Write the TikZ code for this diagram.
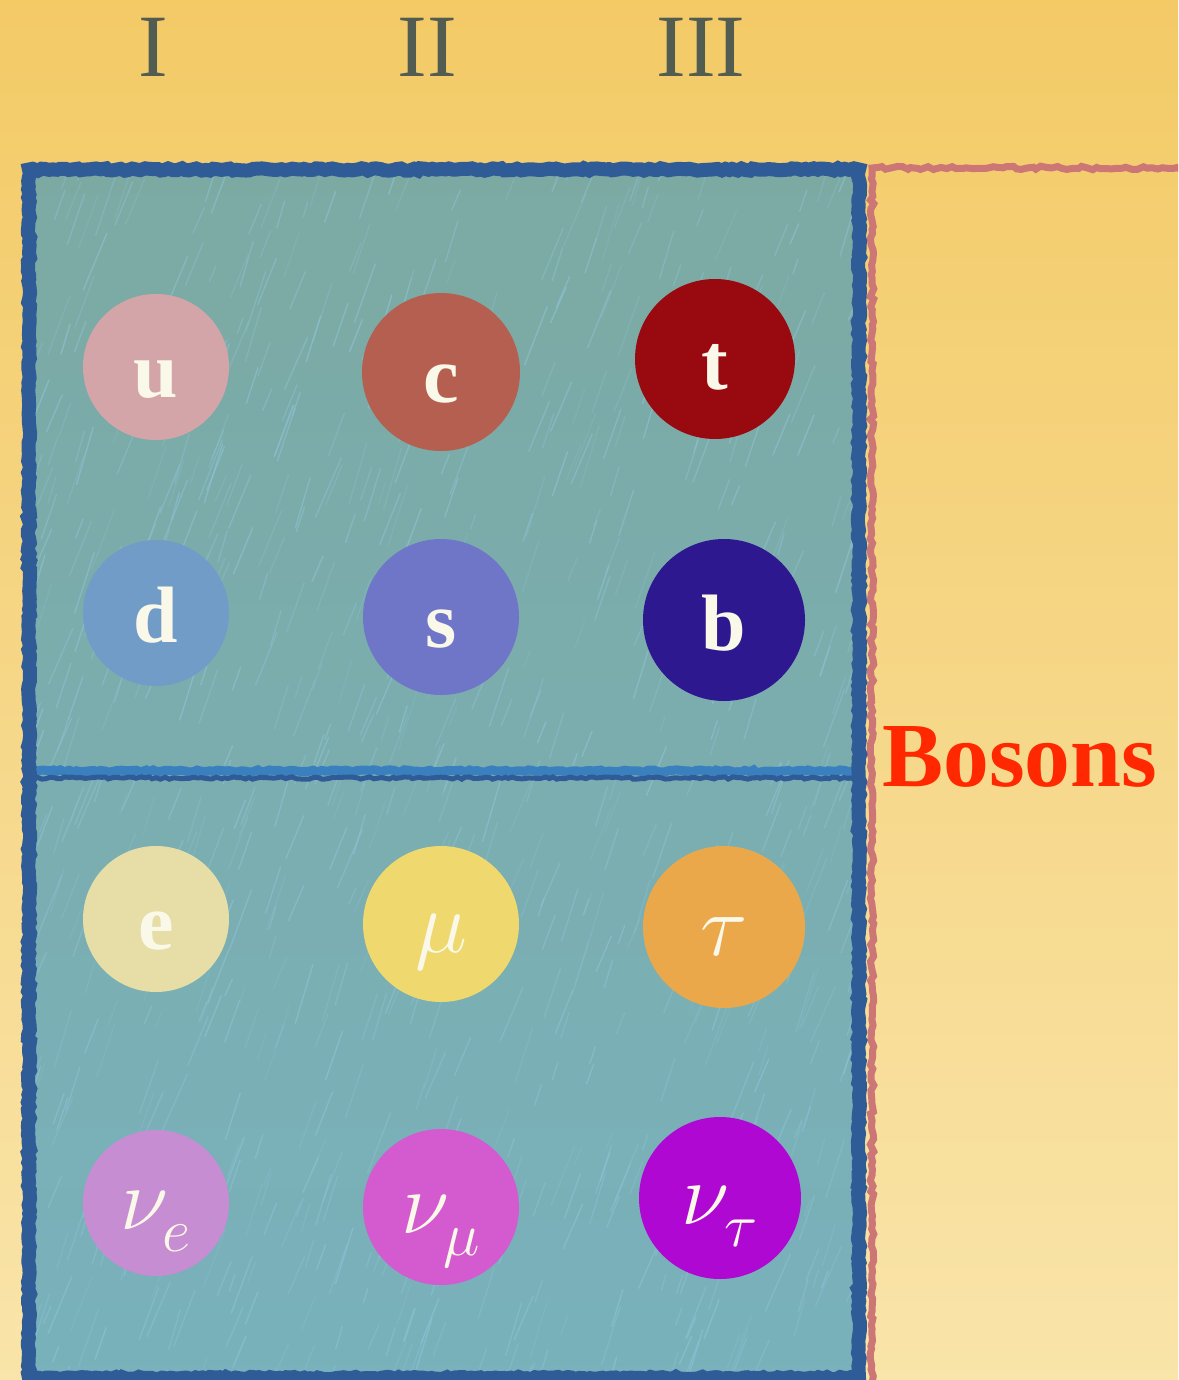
\documentclass[tikz,border=0pt]{standalone}
\usepackage{fix-cm}
\usepackage{fontspec}
\setmainfont{Liberation Serif}
\usetikzlibrary{decorations.pathmorphing}
\definecolor{bgtop}{HTML}{F3CA66}
\definecolor{bgbot}{HTML}{F9E4A9}
\definecolor{boxblue}{HTML}{2F5B97}
\definecolor{divlight}{HTML}{3B80BE}
\definecolor{tealtop}{HTML}{7CAAA3}
\definecolor{tealbot}{HTML}{79B1BC}
\definecolor{streak}{HTML}{8EC3D6}
\definecolor{redline}{HTML}{CC7676}
\definecolor{txtw}{HTML}{FAF8E8}
\definecolor{numcol}{HTML}{525C50}
\definecolor{boscol}{HTML}{FF2800}
\definecolor{cu}{HTML}{D4A5A8}
\definecolor{cc}{HTML}{B55F50}
\definecolor{ct}{HTML}{990A10}
\definecolor{cd}{HTML}{729CC8}
\definecolor{cs}{HTML}{6F76C8}
\definecolor{cb}{HTML}{2E188F}
\definecolor{ce}{HTML}{E6DEA6}
\definecolor{cmu}{HTML}{EFD86D}
\definecolor{ctau}{HTML}{EBA84B}
\definecolor{cnue}{HTML}{C68DD2}
\definecolor{cnumu}{HTML}{D35ACF}
\definecolor{cnutau}{HTML}{AF08D3}
\newcommand{\nusub}[1]{\nu_{\raisebox{-4.5pt}{$\scriptstyle#1$}}}
\tikzset{
  particle/.style={circle, inner sep=0pt, draw=none},
  lbl/.style={anchor=base, inner sep=0pt, text=txtw, font=\fontsize{40}{40}\selectfont\bfseries},
  glbl/.style={anchor=base, inner sep=0pt, text=txtw, font=\fontsize{44}{44}\selectfont},
  gen/.style={anchor=base, inner sep=0pt, text=numcol, font=\fontsize{44.5}{44.5}\selectfont},
  crayon/.style={decorate, decoration={random steps, segment length=2pt, amplitude=0.6pt}},
  wavy/.style={decorate, decoration={random steps, segment length=2.5pt, amplitude=0.9pt}}
}
\begin{document}
\begin{tikzpicture}[x=0.5pt,y=-0.5pt]
\useasboundingbox (0,0) rectangle (1178,1380);
\clip (0,0) rectangle (1178,1380);
% background
\shade[top color=bgtop, bottom color=bgbot] (0,0) rectangle (1178,1380);
% generation labels
\node[gen] (g1) at (153,77) {I};
\node[gen] (g2) at (427,77) {II};
\node[gen] (g3) at (701,77) {III};
% fermion box interior
\shade[top color=tealtop, bottom color=tealbot] (29,169) rectangle (859,1390);
\begin{scope}
\clip (29,169) rectangle (859,1390);
\pgfmathsetseed{12}
\foreach \i in {1,...,900}{
  \pgfmathsetmacro\xa{20+900*rnd}
  \pgfmathsetmacro\ya{160+1250*rnd}
  \pgfmathsetmacro\len{15+50*rnd}
  \pgfmathsetmacro\ang{66+8*rnd}
  \pgfmathsetmacro\op{0.2+0.4*rnd}
  \draw[streak, opacity=\op, line width=0.7pt, line cap=round]
    (\xa,\ya) -- ++({\len*cos(\ang)},{-\len*sin(\ang)});
}
\end{scope}
% boson box
\draw[redline, line width=3.5pt, wavy] (872,1395) -- (872,168) -- (1190,168);
% divider
\draw[divlight, line width=4.5pt, crayon] (33,771) -- (855,771);
\draw[boxblue, line width=2.5pt, crayon] (33,778) -- (855,778);
% fermion box border
\draw[boxblue, line width=7pt, crayon] (29,1378) -- (29,169.5) -- (859,169.5) -- (859,1378) -- cycle;
% particles (minimum size in pt = diameter px / 2)
\node[particle, fill=cu, minimum size=73pt] (u) at (156,367) {};
\node[particle, fill=cc, minimum size=79pt] (c) at (441,372) {};
\node[particle, fill=ct, minimum size=80pt] (t) at (715,359) {};
\node[particle, fill=cd, minimum size=73pt] (d) at (156,613) {};
\node[particle, fill=cs, minimum size=78pt] (s) at (441,617) {};
\node[particle, fill=cb, minimum size=81pt] (b) at (724,620) {};
\node[particle, fill=ce, minimum size=73pt] (e) at (156,919) {};
\node[particle, fill=cmu, minimum size=78pt] (mu) at (441,924) {};
\node[particle, fill=ctau, minimum size=81pt] (tau) at (724,927) {};
\node[particle, fill=cnue, minimum size=73pt] (nue) at (156,1203) {};
\node[particle, fill=cnumu, minimum size=78pt] (numu) at (441,1207) {};
\node[particle, fill=cnutau, minimum size=81pt] (nutau) at (720,1198) {};
% labels
\node[lbl] (lu) at ([yshift=-15pt]u.center) {u};
\node[lbl] (lc) at ([yshift=-15pt]c.center) {c};
\node[lbl] (lt) at ([yshift=-15pt]t.center) {t};
\node[lbl] (ld) at ([yshift=-14.5pt]d.center) {d};
\node[lbl] (ls) at ([yshift=-15pt]s.center) {s};
\node[lbl] (lb) at ([yshift=-15pt]b.center) {b};
\node[lbl] (le) at ([yshift=-15pt]e.center) {e};
\node[glbl] (lmu) at ([yshift=-14pt]mu.center) {$\mu$};
\node[glbl] (ltau) at ([yshift=-14pt]tau.center) {$\tau$};
\node[glbl] (lnue) at ([yshift=-13pt]nue.center) {$\nusub{e}$};
\node[glbl] (lnumu) at ([yshift=-13pt]numu.center) {$\nusub{\mu}$};
\node[glbl] (lnutau) at ([yshift=-13pt]nutau.center) {$\nusub{\tau}$};
% bosons
\node[anchor=base west, inner sep=0pt, text=boscol, font=\fontsize{45.8}{45.8}\selectfont\bfseries] (bos) at (882,786) {Bosons};
\end{tikzpicture}
\end{document}
